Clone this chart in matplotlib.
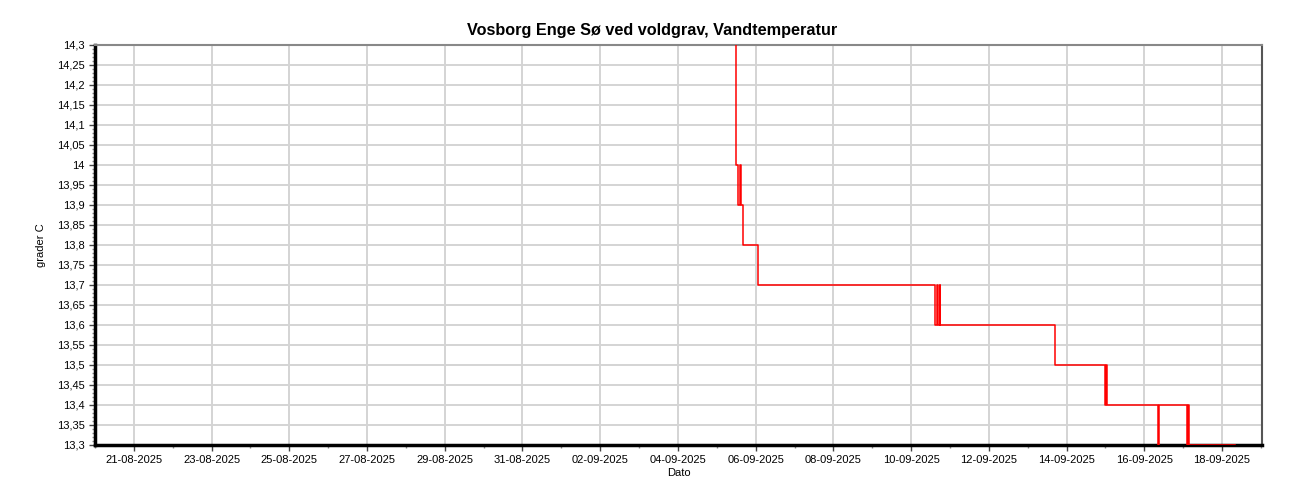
import pandas as pd
import matplotlib
matplotlib.use("Agg")
import matplotlib.pyplot as plt
import matplotlib.dates as mdates
from matplotlib.ticker import MultipleLocator, FuncFormatter

plt.rcParams["font.family"] = ["Liberation Sans", "DejaVu Sans"]

times = [
    "2025-09-05 11:10", "2025-09-05 11:55", "2025-09-05 13:05", "2025-09-05 14:20",
    "2025-09-05 15:00", "2025-09-05 16:15", "2025-09-05 16:50", "2025-09-06 01:40",
    "2025-09-10 14:50", "2025-09-10 16:05", "2025-09-10 16:20", "2025-09-10 17:35",
    "2025-09-10 17:55", "2025-09-13 16:55", "2025-09-14 23:55", "2025-09-15 00:30",
    "2025-09-15 01:00", "2025-09-16 08:15", "2025-09-16 09:15", "2025-09-17 02:40",
    "2025-09-17 03:10", "2025-09-17 03:30", "2025-09-18 08:10",
]
temps = [
    15.5, 14.0, 13.9, 14.0,
    13.9, 13.8, 13.8, 13.7,
    13.6, 13.7, 13.6, 13.7,
    13.6, 13.5, 13.4, 13.5,
    13.4, 13.3, 13.4, 13.3,
    13.4, 13.3, 13.3,
]

tick_dates = pd.date_range("2025-08-21", "2025-09-18", freq="2D")
day_dates = pd.date_range("2025-08-20", "2025-09-19", freq="D")

t = pd.to_datetime(times)

fig = plt.figure(figsize=(13, 5), dpi=100)
ax = fig.add_axes([0.0731, 0.11, 0.8977, 0.80])

ax.plot(t, temps, color="#ff0000", lw=1.1, drawstyle="steps-post", zorder=3)

ax.set_xlim(pd.Timestamp("2025-08-20 00:00"), pd.Timestamp("2025-09-19 00:45"))
ax.set_ylim(13.3, 14.3)

ax.set_xticks(mdates.date2num(tick_dates))
ax.set_xticks(mdates.date2num(day_dates), minor=True)
ax.xaxis.set_major_formatter(mdates.DateFormatter("%d-%m-%Y"))

ax.yaxis.set_major_locator(MultipleLocator(0.05))
ax.yaxis.set_minor_locator(MultipleLocator(0.01))
ax.yaxis.set_major_formatter(FuncFormatter(lambda v, p: f"{round(v, 2):g}".replace(".", ",")))

ax.grid(True, which="major", color="#d4d4d4", lw=1.4, zorder=0)
ax.set_axisbelow(True)

ax.tick_params(axis="both", which="major", labelsize=8, length=4, width=1, color="#444444")
ax.tick_params(axis="both", which="minor", length=2, width=1, color="#888888")

for s in ["left", "bottom"]:
    ax.spines[s].set_linewidth(2.5)
    ax.spines[s].set_color("black")
ax.spines["top"].set_color("#888888")
ax.spines["top"].set_linewidth(1.5)
ax.spines["right"].set_color("#555555")
ax.spines["right"].set_linewidth(1.5)

fig.text(0.502, 0.94, "Vosborg Enge Sø ved voldgrav, Vandtemperatur",
         fontsize=11.7, fontweight="bold", ha="center", va="center")
ax.set_ylabel("grader C", fontsize=8, labelpad=8)
ax.set_xlabel("Dato", fontsize=8, labelpad=2)

fig.savefig("out.png", dpi=100)
